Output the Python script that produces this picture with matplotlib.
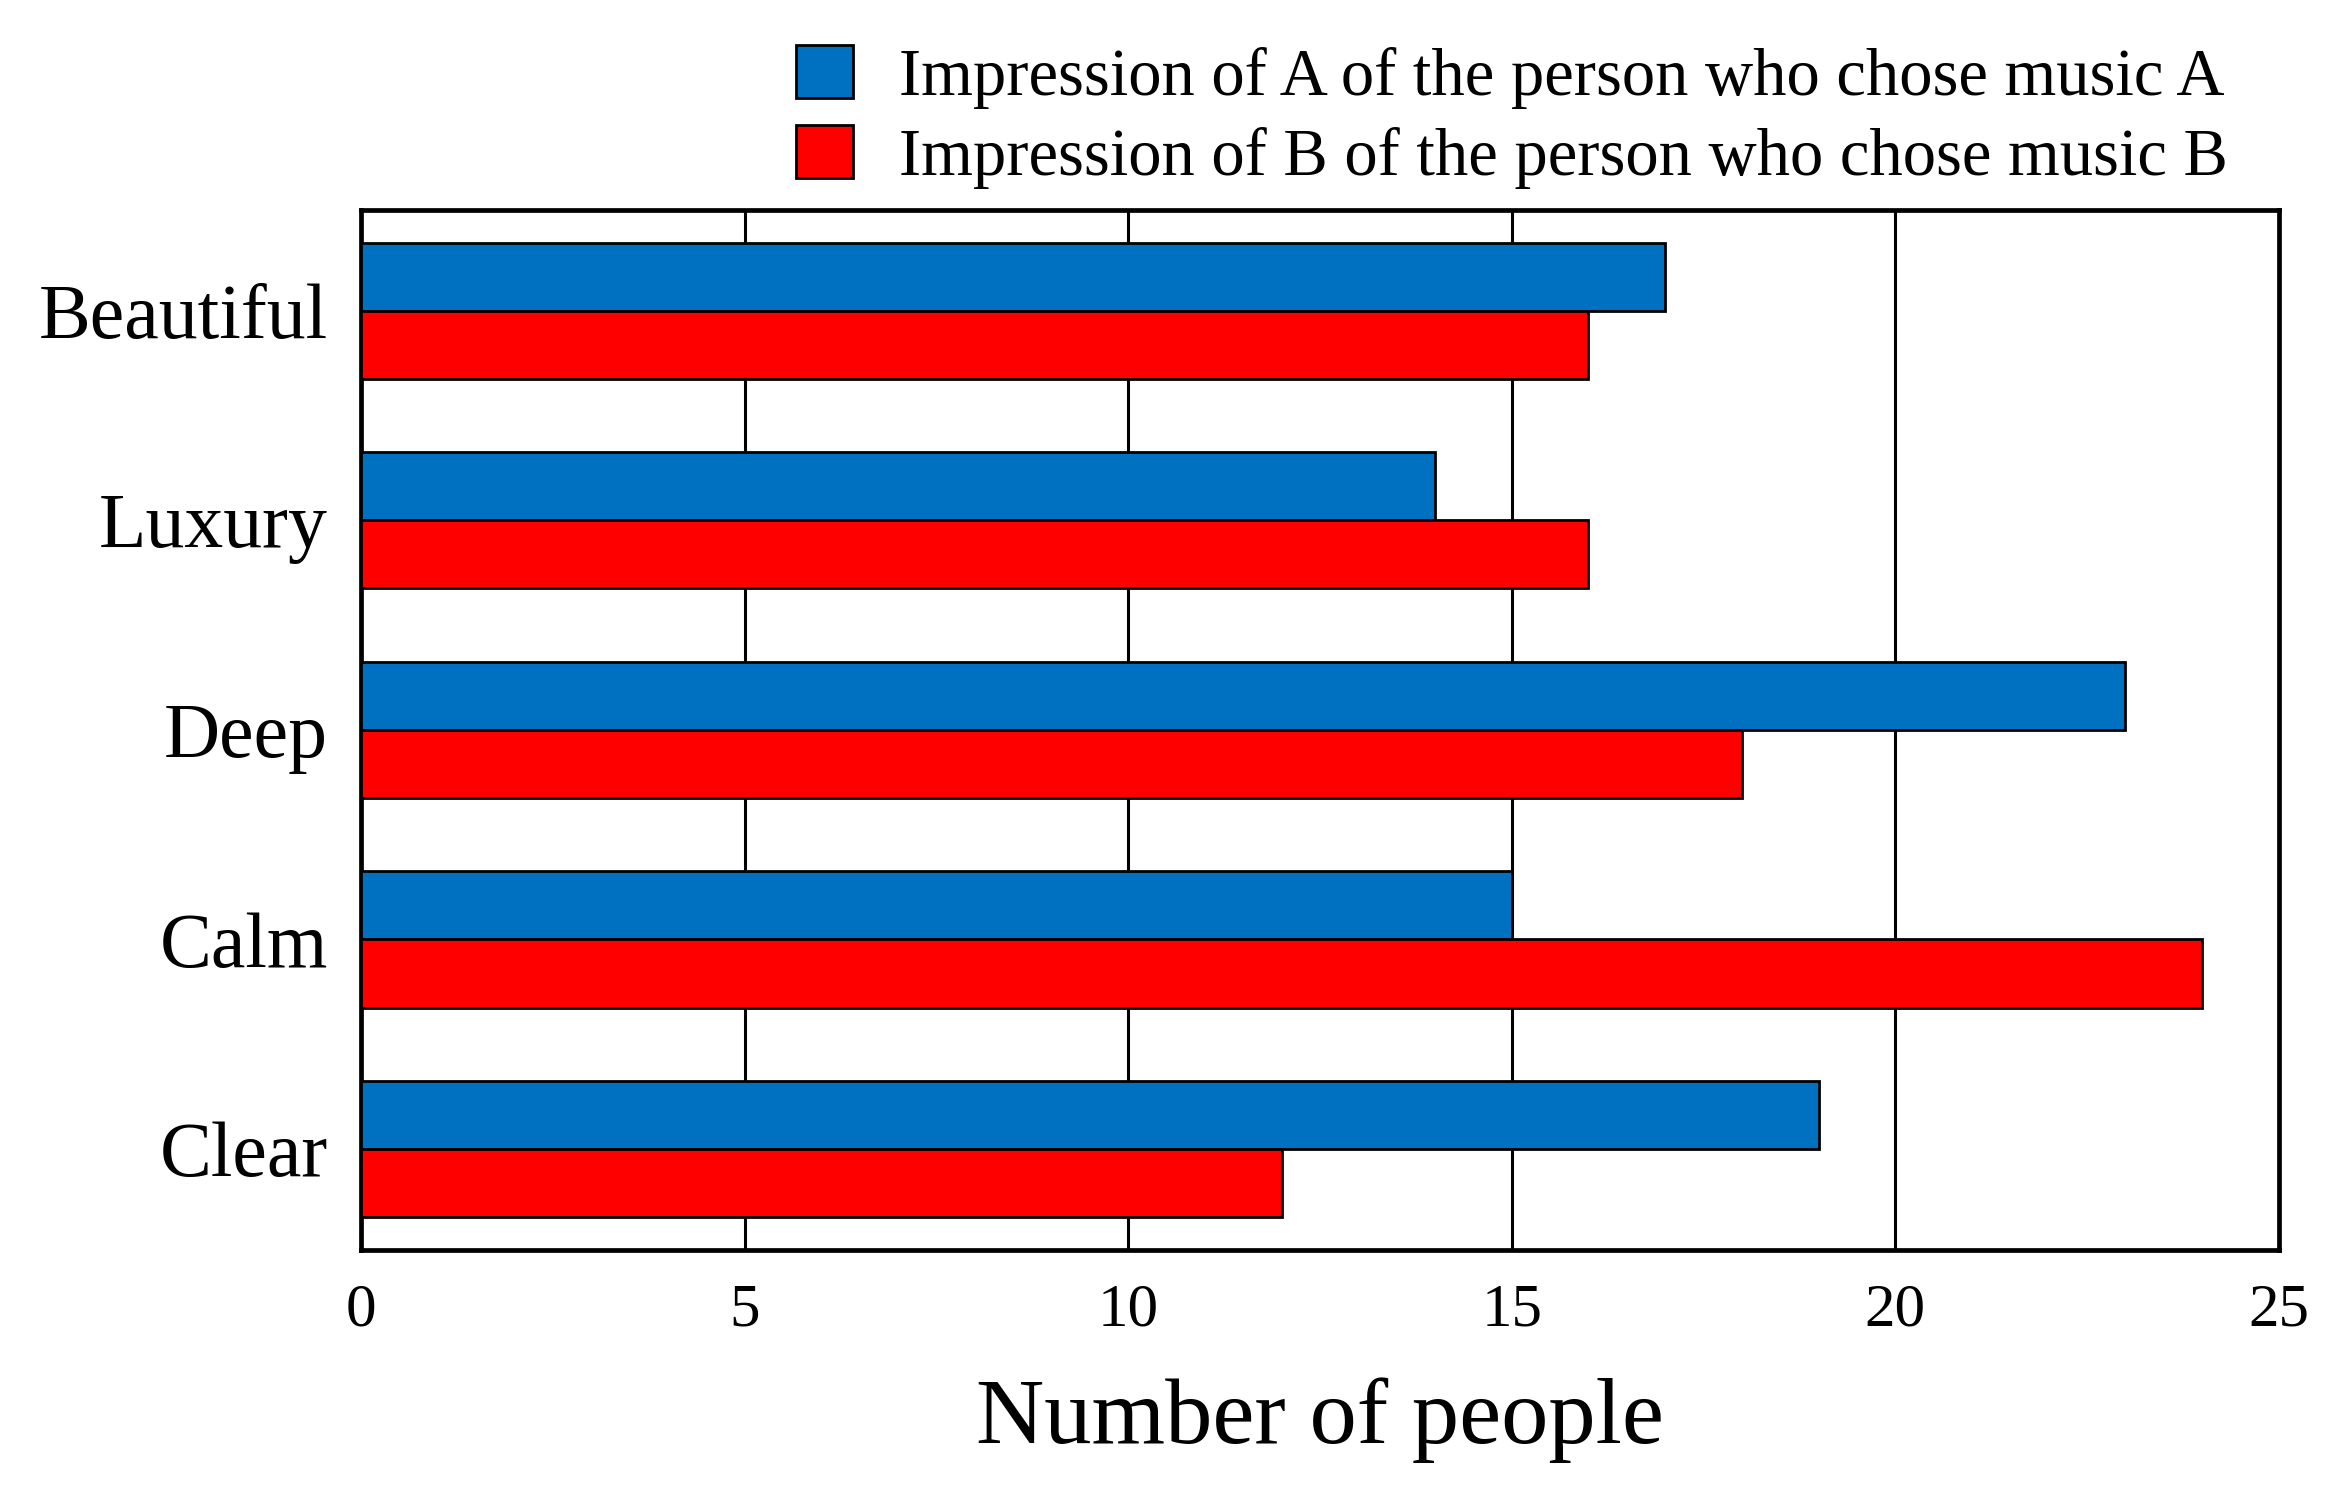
import numpy as np
import matplotlib.pyplot as plt
import matplotlib.patches as mpatches

categories = ["Beautiful", "Luxury", "Deep", "Calm", "Clear"]
music_a = [17, 14, 23, 15, 19]
music_b = [16, 16, 18, 24, 12]
label_a = "Impression of A of the person who chose music A"
label_b = "Impression of B of the person who chose music B"
xticks = [0, 5, 10, 15, 20, 25]

plt.rcParams['font.family'] = ['Liberation Serif', 'DejaVu Serif']

fig = plt.figure(figsize=(11.65, 7.555), dpi=200)
ax = fig.add_axes([0.155, 0.173, 0.823, 0.688])

y = np.arange(len(categories))
h = 0.325
ax.barh(y - h / 2, music_a, height=h, color="#0070C0", edgecolor="black", linewidth=1.0, zorder=3)
ax.barh(y + h / 2, music_b, height=h, color="#FF0000", edgecolor="black", linewidth=1.0, zorder=3)

ax.set_ylim(len(categories) - 0.52, -0.48)
ax.set_xlim(0, 25)
ax.set_yticks(y)
ax.set_yticklabels(categories, fontsize=28)
ax.set_xticks(xticks)
ax.set_xticklabels([str(t) for t in xticks], fontsize=22)
ax.tick_params(length=0, pad=12)
ax.xaxis.grid(True, color="black", linewidth=1.1, zorder=0)
for s in ax.spines.values():
    s.set_linewidth(1.7)
ax.set_xlabel("Number of people", fontsize=34, labelpad=14)

handles = [mpatches.Patch(facecolor="#0070C0", edgecolor="black", label=label_a),
           mpatches.Patch(facecolor="#FF0000", edgecolor="black", label=label_b)]
fig.legend(handles=handles, loc="upper right", bbox_to_anchor=(0.982, 1.01), frameon=False,
           fontsize=24, handlelength=0.85, handleheight=0.85, handletextpad=0.7, labelspacing=0.25)

fig.savefig("out.png", dpi=200)
